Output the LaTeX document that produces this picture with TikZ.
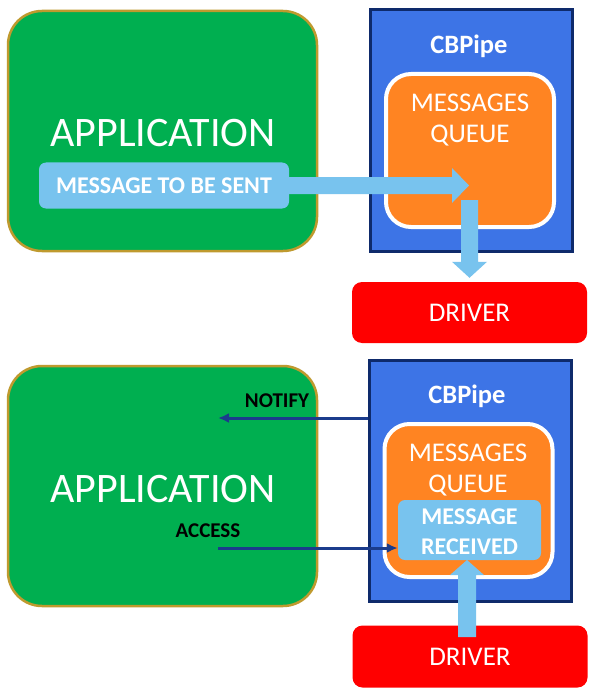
\documentclass[tikz,border=0pt]{standalone}
\usepackage{fontspec}
\setmainfont{Carlito}
\usetikzlibrary{arrows.meta,shadows,calc}
\definecolor{appgreen}{HTML}{00AF50}
\definecolor{appgold}{HTML}{BF9A2E}
\definecolor{pipeblue}{HTML}{3D74E6}
\definecolor{pipenavy}{HTML}{0E2A6B}
\definecolor{qorange}{HTML}{FF8422}
\definecolor{lblue}{HTML}{78C3EE}
\definecolor{drvred}{HTML}{FF0000}
\definecolor{linknavy}{HTML}{1B3C8C}
\tikzset{
  appbox/.style={fill=appgreen, draw=appgold, line width=2.5pt, rounded corners=34pt,
    minimum width=309pt, minimum height=240pt, inner sep=0pt},
  apptext/.style={text=white, font=\fontsize{42}{42}\selectfont, inner sep=0pt},
  pipebox/.style={fill=pipeblue, draw=pipenavy, line width=3pt,
    minimum width=202pt, minimum height=241pt, inner sep=0pt},
  pipetext/.style={text=white, font=\bfseries\fontsize{26.5}{26.5}\selectfont, inner sep=0pt},
  queuebox/.style={fill=qorange, draw=white, line width=4pt, rounded corners=25pt,
    minimum width=168pt, minimum height=153pt, inner sep=0pt,
    drop shadow={opacity=0.3, shadow xshift=1pt, shadow yshift=-2pt}},
  queuetext/.style={text=white, align=center, font=\fontsize{27}{31}\selectfont, inner sep=0pt},
  msgbox/.style={fill=lblue, rounded corners=7pt, text=white, inner sep=0pt,
    font=\bfseries\fontsize{24}{30}\selectfont, align=center},
  drvbox/.style={fill=drvred, rounded corners=10pt, text=white, inner sep=0pt,
    font=\fontsize{27}{27}\selectfont},
  blockarrow/.style={fill=lblue},
  linkarrow/.style={draw=linknavy, line width=3pt, -{Latex[length=11pt,width=10pt]}},
  linklabel/.style={text=black, font=\bfseries\fontsize{21}{21}\selectfont, inner sep=0pt},
}
\begin{document}
\begin{tikzpicture}[x=1pt,y=-1pt]
\useasboundingbox[fill=white] (0,0) rectangle (592,695);

% ===== top part =====
\node[appbox] (app1) at (162.5,131) {};
\node[apptext] (app1t) at (163,133) {APPLICATION};
\node[msgbox, minimum width=250pt, minimum height=46pt] (msg) at (164,185.5) {MESSAGE TO BE SENT};

\node[pipebox] (cb1) at (471,130.5) {};
\node[pipetext] (cb1t) at (469,46) {CBPipe};
\node[queuebox] (q1) at (470,150.5) {};
\node[queuetext] (q1t) at (470,120) {MESSAGES\\QUEUE};

\node[drvbox, minimum width=235pt, minimum height=61pt] (drv1) at (469.5,312.5) {DRIVER};

\coordinate (tipA) at (469,185.5);
\fill[blockarrow] ($(msg.east)+(-2,-8.5)$) -- ($(tipA)+(-17,-8.5)$) -- ($(tipA)+(-17,-17.5)$)
  -- (tipA) -- ($(tipA)+(-17,17.5)$) -- ($(tipA)+(-17,8.5)$) -- ($(msg.east)+(-2,8.5)$) -- cycle;

\coordinate (startB) at (469.5,200);
\coordinate (tipB) at ($(drv1.north)+(0,-4)$);
\fill[blockarrow] ($(startB)+(-8.5,0)$) -- ($(tipB)+(-8.5,-16)$) -- ($(tipB)+(-17.5,-16)$)
  -- (tipB) -- ($(tipB)+(17.5,-16)$) -- ($(tipB)+(8.5,-16)$) -- ($(startB)+(8.5,0)$) -- cycle;

% ===== bottom part =====
\node[appbox] (app2) at (162.5,486) {};
\node[apptext] (app2t) at (163,489) {APPLICATION};

\node[pipebox] (cb2) at (470.5,481) {};
\node[pipetext] (cb2t) at (467,396) {CBPipe};
\node[queuebox] (q2) at (468.5,500.5) {};
\node[queuetext] (q2t) at (468,470) {MESSAGES\\QUEUE};
\node[msgbox, minimum width=143pt, minimum height=60pt] (recv) at (469.5,530) {};
\node[msgbox, fill=none] (recvt) at (469.5,531.5) {MESSAGE\\RECEIVED};

\node[drvbox, minimum width=235pt, minimum height=62pt] (drv2) at (470,656.5) {DRIVER};

\coordinate (startC) at (467,637);
\coordinate (tipC) at (467,560);
\fill[blockarrow] ($(startC)+(-9,0)$) -- ($(tipC)+(-9,15)$) -- ($(tipC)+(-17,15)$)
  -- (tipC) -- ($(tipC)+(17,15)$) -- ($(tipC)+(9,15)$) -- ($(startC)+(9,0)$) -- cycle;

\node[linklabel] (notify) at (277,401) {NOTIFY};
\coordinate (nend) at (218,418);
\draw[linkarrow] (cb2.west |- nend) -- (nend);

\node[linklabel] (access) at (208,531) {ACCESS};
\coordinate (astart) at (218,548);
\draw[linkarrow] (astart) -- (recv.west |- astart);
\end{tikzpicture}
\end{document}
